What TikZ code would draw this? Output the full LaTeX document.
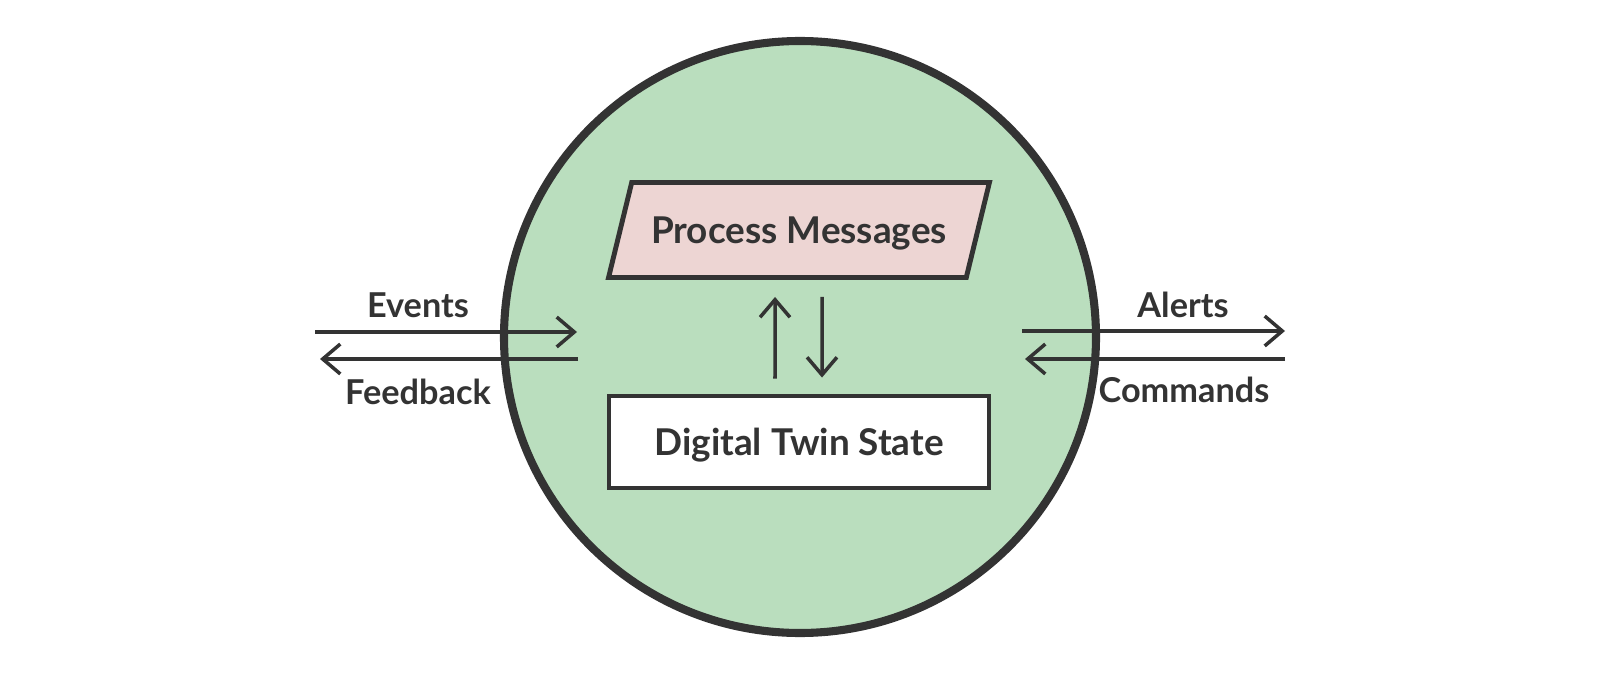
\documentclass[tikz,border=0pt]{standalone}
\usepackage{fontspec}
\setmainfont{Lato}
\usepackage{tikz}
\usetikzlibrary{shapes.geometric,arrows.meta,positioning,calc}
\definecolor{twinline}{RGB}{51,51,51}
\definecolor{twingreen}{RGB}{186,222,190}
\definecolor{twinpink}{RGB}{237,213,211}
\tikzset{
    boundary/.style={circle, draw=twinline, fill=twingreen, line width=4.6pt, minimum size=11.84cm},
    procbox/.style={trapezium, trapezium left angle=61, trapezium right angle=119, trapezium stretches=true,
        draw=twinline, fill=twinpink, line width=2.8pt, minimum width=7.64cm, minimum height=1.9cm,
        font=\fontsize{21}{24}\selectfont\bfseries, text=twinline, text depth=0pt},
    statebox/.style={rectangle, draw=twinline, fill=white, line width=2.8pt, minimum width=7.6cm, minimum height=1.84cm,
        font=\fontsize{21}{24}\selectfont\bfseries, text=twinline, text depth=0pt},
    flow/.style={line width=2pt, twinline, -{Straight Barb[length=10pt,width=17pt]}},
    flowlabel/.style={font=\fontsize{19.5}{22}\selectfont\bfseries, text=twinline},
}
\begin{document}
\begin{tikzpicture}
    \useasboundingbox (0,0) rectangle (32,13.44);
    % twin boundary
    \node[boundary] (twin) at (16,6.7) {};
    \node[procbox] (pm) at (15.98,8.84) {Process Messages};
    \node[statebox] (dts) at (15.98,4.6) {Digital Twin State};

    % inner exchange
    \draw[flow] ([xshift=-0.48cm,yshift=0.3cm]dts.north) -- ([xshift=-0.48cm,yshift=-0.34cm]pm.south);
    \draw[flow] ([xshift=0.46cm,yshift=-0.34cm]pm.south) -- ([xshift=0.46cm,yshift=0.32cm]dts.north);

    % left side
    \coordinate (evin) at (6.3,6.8);
    \coordinate (evout) at (11.54,6.8);
    \coordinate (fbin) at (11.56,6.26);
    \coordinate (fbout) at (6.4,6.26);
    \draw[flow] (evin) -- (evout);
    \draw[flow] (fbin) -- (fbout);
    \node[flowlabel] (events) at (8.36,7.34) {Events};
    \node[flowlabel] (feedback) at (8.36,5.6) {Feedback};

    % right side
    \coordinate (alin) at (20.44,6.82);
    \coordinate (alout) at (25.7,6.82);
    \coordinate (cmin) at (25.7,6.26);
    \coordinate (cmout) at (20.5,6.26);
    \draw[flow] (alin) -- (alout);
    \draw[flow] (cmin) -- (cmout);
    \node[flowlabel] (alerts) at (23.66,7.34) {Alerts};
    \node[flowlabel] (commands) at (23.68,5.64) {Commands};
\end{tikzpicture}
\end{document}
